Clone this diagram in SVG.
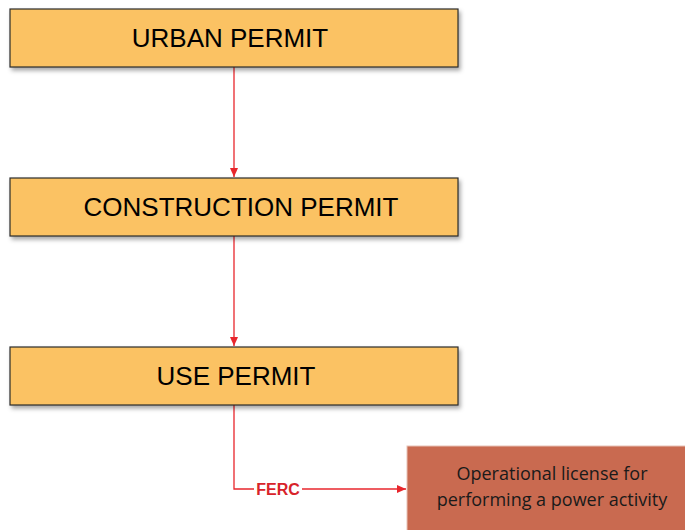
<svg xmlns="http://www.w3.org/2000/svg" width="685" height="530" viewBox="0 0 685 530">
<defs>
<style>
.box{fill:#FBC264;stroke:#2b2b2b;stroke-width:1.2}
.lbl{font-family:"Liberation Sans",Arial,sans-serif;font-size:26px;fill:#000;text-anchor:middle}
.small{font-family:"Open Sans","Liberation Sans",sans-serif;font-size:18px;fill:#1a1a1a;text-anchor:middle}
.conn{fill:none;stroke:#E8262C;stroke-width:1.3}
</style>
<filter id="sh" x="-5%" y="-20%" width="110%" height="150%">
<feDropShadow dx="2" dy="3" stdDeviation="2" flood-color="#000" flood-opacity="0.35"/>
</filter>
<marker id="ah" markerWidth="10" markerHeight="10" refX="9" refY="5" orient="auto" markerUnits="userSpaceOnUse">
<path d="M0,1 L9,5 L0,9 Z" fill="#E8262C"/>
</marker>
</defs>
<rect width="685" height="530" fill="#fff"/>
<g id="connectors">
<line class="conn" x1="234" y1="67" x2="234" y2="177" marker-end="url(#ah)"/>
<line class="conn" x1="234" y1="236" x2="234" y2="346" marker-end="url(#ah)"/>
<polyline class="conn" points="234,405 234,489 254,489"/>
<line class="conn" x1="302" y1="489" x2="406" y2="489" marker-end="url(#ah)"/>
<text x="278" y="495" font-family="Liberation Sans,Arial,sans-serif" font-weight="bold" font-size="16" fill="#D8232A" text-anchor="middle">FERC</text>
</g>
<g id="urban">
<rect class="box" x="10" y="9" width="448" height="58" filter="url(#sh)"/>
<text class="lbl" x="230" y="47">URBAN PERMIT</text>
</g>
<g id="construction">
<rect class="box" x="10" y="178" width="448" height="58" filter="url(#sh)"/>
<text class="lbl" x="241" y="216">CONSTRUCTION PERMIT</text>
</g>
<g id="use">
<rect class="box" x="10" y="347" width="448" height="58" filter="url(#sh)"/>
<text class="lbl" x="236" y="385">USE PERMIT</text>
</g>
<g id="operational">
<rect x="407" y="446" width="285" height="90" fill="#C96A50" stroke="#e8c2b5" stroke-width="1"/>
<text class="small" x="552" y="480">Operational license for</text>
<text class="small" x="552" y="506">performing a power activity</text>
</g>
</svg>
